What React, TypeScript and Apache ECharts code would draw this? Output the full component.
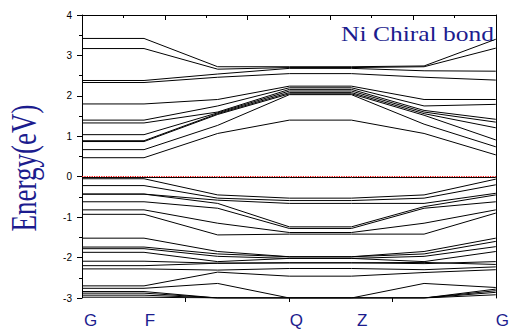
import React, { useEffect, useRef } from "react";
import * as echarts from "echarts";

// k-path positions (fractions of the path) of G, F, (kink), Q, Z, (kink), G
const KPOINTS = [0, 0.1499, 0.3279, 0.5012, 0.6511, 0.8267, 1];
const K_LABELS = ["G", "F", "Q", "Z", "G"];
const K_LABEL_POS = [0.021, 0.164, 0.518, 0.677, 1.0];
const BOTTOM_TICKS = [0.25, 0.5, 0.75];
const Y_MIN = -3;
const Y_MAX = 4;
const FERMI = 0;

// conduction bands (eV) at the 7 k-points
const c1 = [3.42, 3.42, 2.72, 2.72, 2.72, 2.74, 3.40];
const c2 = [3.17, 3.17, 2.66, 2.70, 2.70, 2.72, 3.18];
const c3 = [2.38, 2.38, 2.54, 2.68, 2.68, 2.62, 2.61];
const c4 = [2.33, 2.33, 2.46, 2.55, 2.55, 2.46, 2.39];
const c5 = [1.80, 1.80, 1.91, 2.24, 2.24, 1.91, 1.91];
const c6 = [1.40, 1.40, 1.75, 2.20, 2.20, 1.75, 1.79];
const c7 = [1.33, 1.33, 1.60, 2.16, 2.16, 1.64, 1.42];
const c8 = [1.04, 1.04, 1.58, 2.12, 2.12, 1.60, 1.35];
const c9 = [0.89, 0.89, 1.56, 2.08, 2.08, 1.56, 1.21];
const c10 = [0.87, 0.87, 1.54, 2.05, 2.05, 1.52, 0.91];
const c11 = [0.67, 0.67, 1.27, 2.03, 2.03, 1.30, 0.74];
const c12 = [0.47, 0.47, 1.07, 1.40, 1.40, 1.07, 0.54];

// valence bands (eV)
const v1 = [-0.02, -0.02, -0.02, -0.02, -0.02, -0.02, -0.02];
const v2 = [-0.05, -0.05, -0.45, -0.53, -0.53, -0.45, -0.06];
const v3 = [-0.22, -0.22, -0.53, -0.59, -0.59, -0.53, -0.20];
const v4 = [-0.43, -0.43, -0.58, -0.66, -0.66, -0.66, -0.41];
const v5 = [-0.43, -0.43, -0.66, -1.24, -1.24, -0.74, -0.45];
const v6 = [-0.62, -0.62, -0.78, -1.28, -1.28, -0.78, -0.62];
const v7 = [-0.82, -0.82, -1.15, -1.38, -1.38, -1.15, -0.82];
const v8 = [-0.93, -0.93, -1.44, -1.42, -1.42, -1.42, -0.90];
const w1 = [-1.52, -1.52, -1.85, -1.98, -1.98, -1.85, -1.52];
const w2 = [-1.74, -1.74, -1.91, -1.98, -1.98, -1.91, -1.60];
const w3 = [-1.78, -1.78, -1.97, -2.02, -2.02, -1.97, -1.73];
const w4 = [-1.87, -1.87, -2.10, -2.02, -2.02, -2.10, -1.85];
const w5 = [-2.09, -2.09, -2.14, -2.13, -2.13, -2.15, -2.10];
const w6 = [-2.20, -2.20, -2.14, -2.13, -2.13, -2.12, -2.17];
const w7 = [-2.28, -2.28, -2.31, -2.27, -2.27, -2.30, -2.23];
const w8 = [-2.70, -2.70, -2.36, -2.46, -2.46, -2.37, -2.30];
const w9 = [-2.76, -2.76, -2.64, -3.0, -3.0, -2.64, -2.74];
const w10 = [-2.84, -2.84, -3.0, -3.0, -3.0, -3.0, -2.78];
const w11 = [-2.88, -2.88, -3.0, -3.0, -3.0, -3.0, -2.82];
const w12 = [-2.93, -2.93, -3.0, -3.0, -3.0, -3.0, -2.86];
const w13 = [-2.98, -2.98, -3.0, -3.0, -3.0, -3.0, -2.92];

const BANDS = [
  c1, c2, c3, c4, c5, c6, c7, c8, c9, c10, c11, c12,
  v1, v2, v3, v4, v5, v6, v7, v8,
  w1, w2, w3, w4, w5, w6, w7, w8, w9, w10, w11, w12, w13,
];

const NAVY = "#1c1c8e";

export default function App() {
  const ref = useRef<HTMLDivElement>(null);
  useEffect(() => {
    if (!ref.current) return;
    const chart = echarts.init(ref.current, undefined, { renderer: "svg" });
    const series: any[] = BANDS.map((b) => ({
      type: "line",
      data: KPOINTS.map((k, j) => [k, b[j]]),
      showSymbol: false,
      symbol: "none",
      silent: true,
      lineStyle: { color: "#000", width: 1 },
      z: 2,
    }));
    series.push({
      type: "line",
      data: [],
      silent: true,
      markLine: {
        silent: true,
        symbol: "none",
        label: { show: false },
        lineStyle: { color: "#ff0000", type: "dotted", width: 1.2 },
        data: [{ yAxis: FERMI }],
      },
      z: 3,
    });
    chart.setOption({
      animation: false,
      backgroundColor: "#fff",
      grid: { left: 82, right: 3, top: 15, bottom: 32 },
      xAxis: [
        {
          type: "value",
          min: 0,
          max: 1,
          position: "bottom",
          axisLine: { show: false, onZero: false },
          splitLine: { show: false },
          axisTick: {
            show: true,
            inside: false,
            length: 4,
            customValues: BOTTOM_TICKS,
            lineStyle: { color: "#000" },
          },
          axisLabel: {
            customValues: K_LABEL_POS,
            formatter: (v: number) => {
              let best = 0;
              K_LABEL_POS.forEach((p, i) => {
                if (Math.abs(p - v) < Math.abs(K_LABEL_POS[best] - v)) best = i;
              });
              return K_LABELS[best];
            },
            color: NAVY,
            fontSize: 17,
            fontFamily: "Liberation Sans, Arial, sans-serif",
            margin: 14,
            showMinLabel: true,
            showMaxLabel: true,
            hideOverlap: false,
            alignMaxLabel: "left",
          },
        },
        {
          type: "value",
          min: 0,
          max: 1,
          interval: 0.2,
          position: "top",
          axisLine: { show: true, onZero: false, lineStyle: { color: "#000", width: 1 } },
          splitLine: { show: false },
          axisTick: { show: true, inside: true, length: 5, lineStyle: { color: "#000" } },
          minorTick: { show: true, splitNumber: 2, length: 3, lineStyle: { color: "#000" } },
          axisLabel: { show: false },
        },
      ],
      yAxis: [
        {
          type: "value",
          min: Y_MIN,
          max: Y_MAX,
          interval: 1,
          position: "left",
          axisLine: { show: true, onZero: false, lineStyle: { color: "#000", width: 1 } },
          splitLine: { show: false },
          axisTick: { show: true, inside: false, length: 5, lineStyle: { color: "#000" } },
          minorTick: { show: true, splitNumber: 2, length: 3, lineStyle: { color: "#000" } },
          axisLabel: {
            color: "#000",
            fontSize: 10,
            fontFamily: "Liberation Sans, Arial, sans-serif",
            margin: 10,
          },
        },
        {
          type: "value",
          min: Y_MIN,
          max: Y_MAX,
          interval: 1,
          position: "right",
          axisLine: { show: true, onZero: false, lineStyle: { color: "#000", width: 1 } },
          splitLine: { show: false },
          axisTick: { show: false },
          axisLabel: { show: false },
        },
      ],
      graphic: [
        {
          type: "text",
          x: 341,
          y: 34,
          scaleX: 1.16,
          style: {
            text: "Ni Chiral bond",
            fill: NAVY,
            font: '22px "Liberation Serif", "Times New Roman", serif',
            align: "left",
            verticalAlign: "middle",
          },
        },
        {
          type: "text",
          x: 24,
          y: 168,
          rotation: Math.PI / 2,
          scaleY: 1.3,
          style: {
            text: "Energy(eV)",
            fill: NAVY,
            font: '27px "Liberation Serif", "Times New Roman", serif',
            align: "center",
            verticalAlign: "middle",
          },
        },
      ],
      series,
    });
    return () => chart.dispose();
  }, []);
  return (
    <div
      ref={ref}
      style={{ position: "absolute", left: 0, top: 0, width: 512, height: 330 }}
    />
  );
}
